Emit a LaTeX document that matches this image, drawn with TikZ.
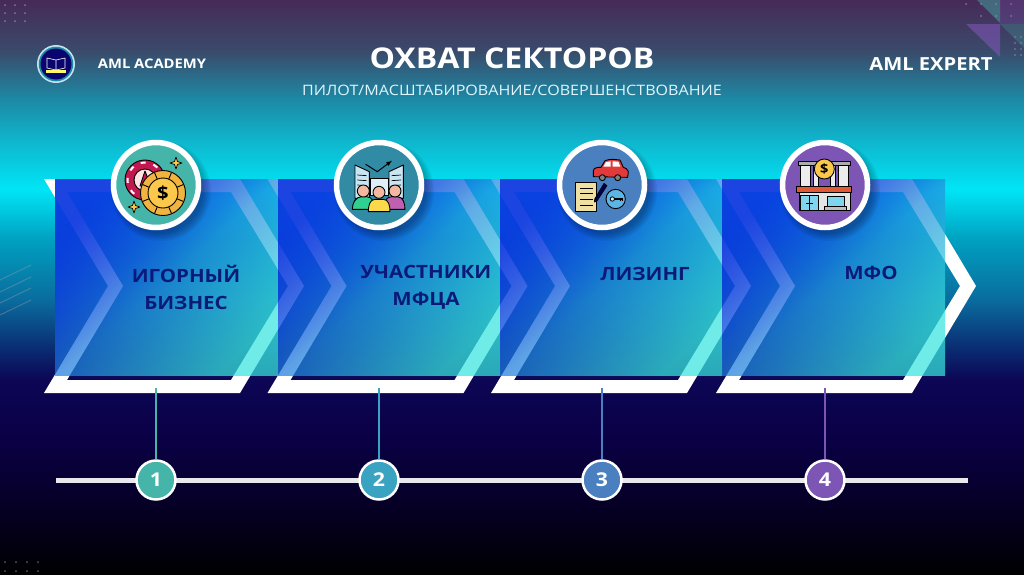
\documentclass[tikz,border=0pt]{standalone}
\usepackage{fontspec}
\setmainfont[FakeStretch=1.12]{Open Sans}
\usetikzlibrary{calc,fadings}
\definecolor{c0}{HTML}{462A58}
\definecolor{c1}{HTML}{3A4A6A}
\definecolor{c2}{HTML}{1C8AA6}
\definecolor{c3}{HTML}{0FB5CC}
\definecolor{c4}{HTML}{00E5F6}
\definecolor{c5}{HTML}{00A0C0}
\definecolor{c6}{HTML}{0A6C9E}
\definecolor{c7}{HTML}{0A2A70}
\definecolor{c8}{HTML}{0C0655}
\definecolor{c9}{HTML}{0A0045}
\definecolor{c10}{HTML}{060028}
\pgfdeclareverticalshading{bgshade}{100bp}{
 color(0bp)=(black); color(25bp)=(black);
 color(31.4bp)=(c10); color(36.7bp)=(c9); color(41.9bp)=(c8);
 color(44.5bp)=(c7); color(48.9bp)=(c6); color(54.1bp)=(c5);
 color(58.5bp)=(c4); color(62.8bp)=(c3); color(66.3bp)=(c2);
 color(70.6bp)=(c1); color(75bp)=(c0); color(100bp)=(c0)}
\definecolor{boxa}{HTML}{0A22DC}
\definecolor{boxm}{HTML}{2096ED}
\definecolor{boxb}{HTML}{38E6DE}
\definecolor{tlc}{HTML}{0A3CE0}
\definecolor{navytxt}{HTML}{0B1A78}
\definecolor{teal1}{HTML}{45B5AA}
\definecolor{teal2}{HTML}{3BA3C2}
\definecolor{blue3}{HTML}{4A80C0}
\definecolor{purp4}{HTML}{7D55B5}
\definecolor{ln}{HTML}{E8E8EE}
\definecolor{coinA}{HTML}{F2B441}
\definecolor{coinB}{HTML}{FBC84B}
\definecolor{chip}{HTML}{C2184F}
\definecolor{skin}{HTML}{F4B8A0}
\definecolor{pgreen}{HTML}{2FD090}
\definecolor{pyell}{HTML}{FCD94C}
\definecolor{pmag}{HTML}{C060B0}
\definecolor{bldg}{HTML}{C8E6F2}
\definecolor{carred}{HTML}{E23A3A}
\definecolor{paper}{HTML}{EFDFA0}
\definecolor{keyb}{HTML}{5DB5E5}
\definecolor{awn}{HTML}{E05A35}
\definecolor{glass}{HTML}{7FD4EE}
\tikzfading[name=cornerfade,top color=transparent!0,bottom color=transparent!100,middle color=transparent!100,shading angle=45]
\tikzset{
 x=1pt,y=-1pt,
 chev/.style={fill=white,even odd rule,draw=none},
 pane/.style={draw=none,fill opacity=.72,opacity=.72,left color=boxa,middle color=boxm,right color=boxb,shading angle=45},
 cornerpane/.style={draw=none,fill=tlc,fill opacity=.75,path fading=cornerfade},
 ring/.style={circle,draw=white,line width=5.5pt,minimum size=85pt,inner sep=0pt},
 num/.style={circle,draw=white,line width=2.5pt,minimum size=39pt,inner sep=0pt,text=white,font=\fontsize{19}{19}\selectfont\bfseries},
 lab/.style={text=navytxt,font=\fontsize{18.3}{27}\selectfont\bfseries,align=center},
 ik/.style={draw=black,line width=.9pt,line join=round},
 dotd/.style={fill=white,opacity=.35},
}
\newcommand{\chevron}[1]{%
 \fill[chev,xshift=#1] (44,179)--(240,179)--(304,286)--(240,393)--(44,393)--(108,286)--cycle
  (67,192)--(231,192)--(288,286)--(231,380)--(67,380)--(123,286)--cycle;}
\newcommand{\softshadow}[2]{%
 \foreach \r in {50,48.5,47,45.5,44,42.5}{\fill[black,opacity=.05] (#1+5,#2+6) circle[radius=\r];}}
\begin{document}
\begin{tikzpicture}
\useasboundingbox (0,0) rectangle (1024,574);
\shade[shading=bgshade] (0,0) rectangle (1024,574);
% decorations
\foreach \x in {5,15,25}\foreach \y in {5,13,21}{\fill[dotd] (\x,\y) circle[radius=1];}
\foreach \x in {5,16,27,38}\foreach \y in {562,571}{\fill[dotd] (\x,\y) circle[radius=1];}
\foreach \x in {981,996,1011}\foreach \y in {4,16}{\fill[dotd] (\x,\y) circle[radius=1];}
\fill[dotd] (966,4) circle[radius=1];
\foreach \x in {1015,1021}\foreach \y in {37,43,49,55}{\fill[dotd] (\x,\y) circle[radius=.9];}
\fill[teal1,opacity=.45] (977,0)--(1000,0)--(1000,23)--cycle;
\fill[purp4,opacity=.6] (966,24)--(1000,24)--(1000,57)--cycle;
\fill[purp4,opacity=.25] (1000,0)--(1024,0)--(1024,24)--(1000,24)--cycle;
\fill[teal1,opacity=.25] (1000,24)--(1024,24)--(1024,48)--cycle;
\foreach \a/\b in {280/265,292/277,303/288,315/300}{\draw[gray!70!white,opacity=.35,line width=1pt] (0,\a)--(31,\b);}
% header
\node[text=white,font=\fontsize{28.6}{28}\selectfont\bfseries] (title) at (512,58) {ОХВАТ СЕКТОРОВ};
\node[text=white!88!cyan,font=\fontsize{14.35}{15}\selectfont] (sub) at (512,90) {ПИЛОТ/МАСШТАБИРОВАНИЕ/СОВЕРШЕНСТВОВАНИЕ};
\node[text=white,font=\fontsize{13.2}{14}\selectfont\bfseries] (aca) at (152,64) {AML ACADEMY};
\node[text=white,font=\fontsize{18}{18}\selectfont\bfseries] (exp) at (931,64) {AML EXPERT};
% logo
\fill[white!70!teal2] (56,64) circle[radius=19];
\fill[c2] (56,64) circle[radius=17.3];
\fill[c8!85!blue] (56,64) circle[radius=15.5];
\draw[white,line width=.6pt] (47,58)--(56,60)--(65,58)--(65,68)--(56,70)--(47,68)--cycle (56,60)--(56,70);
\fill[yellow!60!white] (46,69.5) rectangle (66,72.5);
% chevrons
\chevron{0}\chevron{223.5}\chevron{447}\chevron{672}
% panes
\shade[pane] (55,179) rectangle (278,375);
\fill[cornerpane] (55,179) rectangle (278,375);
\shade[pane] (278,179) rectangle (500,375);
\fill[cornerpane] (278,179) rectangle (500,375);
\shade[pane] (500,179) rectangle (722,375);
\fill[cornerpane] (500,179) rectangle (722,375);
\shade[pane] (722,179) rectangle (945,375);
\fill[cornerpane] (722,179) rectangle (945,375);
\coordinate (t1) at (156,388);
\coordinate (t2) at (379,388);
\coordinate (t3) at (602,388);
\coordinate (t4) at (825,388);
% labels
\node[lab] (l1) at (186,287) {ИГОРНЫЙ\\БИЗНЕС};
\node[lab] (l2) at (426,287.5) {УЧАСТНИКИ\\МФЦА};
\node[lab] (l3) at (645,274) {ЛИЗИНГ};
\node[lab] (l4) at (871,273) {МФО};
% timeline
\coordinate (tlL) at (56,480.5);
\coordinate (tlR) at (968,480.5);
\draw[ln,line width=5pt] (tlL)--(tlR);
\node[num,fill=teal1] (n1) at (156,480) {1};
\node[num,fill=teal2] (n2) at (379,480) {2};
\node[num,fill=blue3] (n3) at (602,480) {3};
\node[num,fill=purp4] (n4) at (825,480) {4};
\draw[teal1,line width=2pt] (t1)--(n1);
\draw[teal2,line width=2pt] (t2)--(n2);
\draw[blue3,line width=2pt] (t3)--(n3);
\draw[purp4,line width=2pt] (t4)--(n4);
% icon circles
\softshadow{156}{185}\softshadow{379}{185}\softshadow{602}{185}\softshadow{825}{185}
\node[ring,fill=teal1] (i1) at (156,185) {};
\node[ring,fill=teal2!85!black] (i2) at (379,185) {};
\node[ring,fill=blue3] (i3) at (602,185) {};
\node[ring,fill=purp4] (i4) at (825,185) {};
% icon 1 : chip + coin
\draw[ik,fill=chip] (145,180) circle[radius=20];
\draw[white,line width=2pt,dash pattern=on 5pt off 8pt] (145,180) circle[radius=17.5];
\draw[ik,fill=white!90!red] (145,180) circle[radius=11];
\draw[ik,fill=chip] (145,180) ++(-5,6)--(145,171)--(151,186)--cycle;
\draw[ik,fill=coinA] (163,193) circle[radius=22.5];
\draw[ik,fill=coinB] (163,193) circle[radius=15];
\foreach \a in {0,45,...,315}{\draw[black,line width=.9pt] ($(163,193)+(\a+22.5:15)$)--($(163,193)+(\a+22.5:22)$);}
\node[inner sep=0pt,font=\fontsize{18}{18}\selectfont\bfseries] (d1) at (163,193) {\$};
\draw[ik,fill=coinB,line width=.7pt] (176,157)--(177.5,161.5)--(182,163)--(177.5,164.5)--(176,169)--(174.5,164.5)--(170,163)--(174.5,161.5)--cycle;
\draw[ik,fill=coinB,line width=.7pt] (134,201)--(135.5,205.5)--(140,207)--(135.5,208.5)--(134,213)--(132.5,208.5)--(128,207)--(132.5,205.5)--cycle;
% icon 2 : people
\begin{scope}[shift={(320,130)},x=.3333pt,y=-.3333pt]
\draw[ik,fill=bldg] (105,105)--(148,125)--(148,205)--(105,205)--cycle;
\draw[ik,fill=bldg] (250,105)--(207,125)--(207,205)--(250,205)--cycle;
\draw[ik,fill=bldg!60!white] (150,145)--(205,145)--(205,195)--(150,195)--cycle;
\foreach \y in {135,150,165}{\draw[black,line width=.7pt] (112,\y)--(140,\y+2) (243,\y)--(215,\y+2);}
\draw[black,line width=1pt,-latex] (137,103)--(172,125)--(216,92);
\draw[ik,fill=pgreen] (97,238) to[out=90,in=180] (125,200)--(140,200) to[out=0,in=90] (165,238)--cycle;
\draw[ik,fill=skin] (130,183) circle[radius=18];
\draw[ik,fill=pmag] (190,238) to[out=90,in=180] (215,200)--(232,200) to[out=0,in=90] (255,238)--cycle;
\draw[ik,fill=skin] (225,183) circle[radius=18];
\draw[ik,fill=pyell] (145,245) to[out=90,in=180] (165,208)--(190,208) to[out=0,in=90] (210,245)--cycle;
\draw[ik,fill=skin] (177,187) circle[radius=18];
\end{scope}
% icon 3 : car, contract, key
\begin{scope}[shift={(545,130)},x=.3333pt,y=-.3333pt]
\draw[ik,fill=carred] (145,140)--(145,122) to[out=80,in=180] (168,112)--(180,92) to[out=20,in=180] (205,88)--(225,90)--(235,112) to[out=0,in=120] (250,125)--(248,142)--cycle;
\fill[white] (183,96)--(197,94)--(197,110)--(175,110)--cycle (203,94)--(220,95)--(226,110)--(203,110)--cycle;
\draw[ik,fill=gray] (172,143) circle[radius=9];
\draw[ik,fill=gray] (218,143) circle[radius=9];
\draw[ik,fill=paper] (92,157) rectangle (155,243);
\foreach \y in {175,190,208,228}{\draw[black,line width=1pt] (105,\y)--(143,\y);}
\draw[ik,fill=black!70!blue,line width=.6pt] (177,160)--(186,167)--(156,213)--(148,216)--(149,207)--cycle;
\draw[ik,fill=keyb] (212,207) circle[radius=29];
\draw[black,fill=white!80!cyan,line width=.8pt] (202,207) circle[radius=6.5];
\draw[black,line width=1.4pt] (208,207)--(234,207) (226,207)--(226,213) (232,207)--(232,213);
\end{scope}
% icon 4 : bank
\begin{scope}[shift={(770,130)},x=.3333pt,y=-.3333pt]
\draw[ik,fill=gray!65] (85,95) rectangle (242,106);
\foreach \xa/\xb in {92/122,130/145,180/197,205/235}{\draw[ik,fill=white!85!gray] (\xa,106) rectangle (\xb,168);}
\draw[ik,fill=coinB] (163,117) circle[radius=30];
\node[inner sep=0pt,font=\fontsize{13}{13}\selectfont\bfseries] (d4) at (163,117) {\$};
\draw[ik,fill=gray!20] (88,188) rectangle (240,240);
\draw[ik,fill=awn] (80,168) rectangle (245,188);
\draw[ik,fill=glass] (92,196) rectangle (145,240);
\draw[black,line width=1pt] (118,196)--(118,240) (108,222)--(128,222);
\draw[ik,fill=glass] (172,200) rectangle (224,228);
\draw[ik,fill=gray!50] (162,228) rectangle (230,240);
\end{scope}
\end{tikzpicture}
\end{document}
